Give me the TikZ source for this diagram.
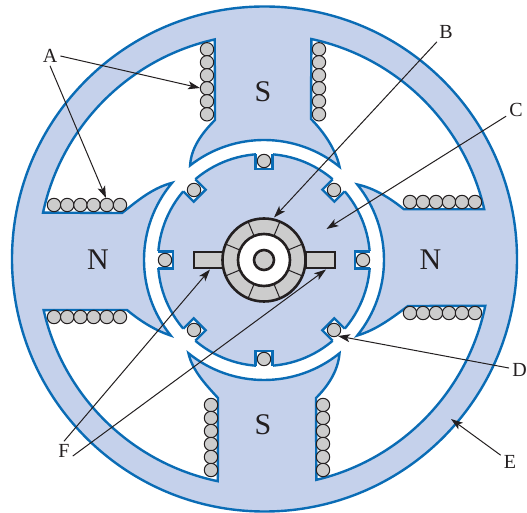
\documentclass[tikz,border=0pt]{standalone}
\usepackage{fontspec}
\setmainfont{Liberation Serif}
\usetikzlibrary{arrows.meta}
\definecolor{motorblue}{RGB}{197, 209, 235}
\definecolor{motoredge}{RGB}{10, 108, 181}
\definecolor{wiregray}{RGB}{204, 204, 204}
\definecolor{inkblack}{RGB}{35, 31, 32}
\tikzset{
  ironpart/.style={fill=motorblue, draw=motoredge, line width=2.4pt},
  coilwire/.style={fill=wiregray, draw=inkblack, line width=1pt},
  hubpart/.style={fill=wiregray, draw=inkblack, line width=2.6pt},
  polelabel/.style={font=\fontsize{30}{30}\selectfont, text=inkblack},
  partlabel/.style={font=\fontsize{20}{20}\selectfont, text=inkblack, inner sep=3pt},
  pointer/.style={draw=inkblack, line width=1pt, -{Stealth[length=12pt, width=8pt, inset=3pt]}}
}

\begin{document}
\begin{tikzpicture}[x=1pt, y=1pt]
        \useasboundingbox (-264,-253) rectangle (263,260);
        % stator with the window and the air gap
        \draw[ironpart] (0.5,1) circle (252.5);
        \draw[fill=white, draw=motoredge, line width=2.4pt, line join=miter]
            (77.9:226) arc[start angle=77.9, end angle=13, radius=226]
            -- (140,50.7) .. controls (126,62) and (110,72) .. (39:120)
            arc[start angle=39, end angle=-39, radius=120]
            .. controls (112,-70) and (128,-58) .. (144,-46)
            -- (-11.7:226) arc[start angle=-11.7, end angle=-76.6, radius=226]
            -- (52,-138) .. controls (63,-127) and (74,-112) .. (-51:120)
            arc[start angle=-51, end angle=-129, radius=120]
            .. controls (-72,-110) and (-58,-125) .. (-46,-138)
            -- (-101.8:226) arc[start angle=-101.8, end angle=-167.2, radius=226]
            -- (-137,-50) .. controls (-125,-60) and (-110,-70) .. (219:120)
            arc[start angle=219, end angle=140, radius=120]
            .. controls (-112,72) and (-128,58) .. (-142,47)
            -- (167.9:226) arc[start angle=167.9, end angle=102.6, radius=226]
            -- (-49,140) .. controls (-62,127) and (-73,112) .. (128:120)
            arc[start angle=128, end angle=51, radius=120]
            .. controls (72,110) and (60,128) .. (47,141) -- cycle;
        % coils
        \foreach \n in {0,...,5} {
            \draw[coilwire] (-57,210.7-13*\n) circle (6.7);
            \draw[coilwire] (55,210.7-13*\n) circle (6.7);
            \draw[coilwire] (-53,-145-13*\n) circle (6.7);
            \draw[coilwire] (59,-145-13*\n) circle (6.7);
            \draw[coilwire] (-210+13.2*\n,55) circle (6.7);
            \draw[coilwire] (-210+13.2*\n,-57) circle (6.7);
            \draw[coilwire] (146+13*\n,58) circle (6.7);
            \draw[coilwire] (146+13*\n,-53) circle (6.7);
        }
        % rotor
        \draw[ironpart] (0,0) circle (106);
        \foreach \angle in {0,45,...,315} {
            \begin{scope}[rotate=\angle]
                \fill[white] (91,-8.5) rectangle (109,8.5);
                \draw[motoredge, line width=2.4pt] (105.7,8.5) -- (91,8.5) -- (91,-8.5) -- (105.7,-8.5);
                \draw[coilwire] (99,0) circle (6.7);
            \end{scope}
        }
        % brushes and commutator
        \draw[hubpart] (-70,-8) rectangle (-41,8);
        \draw[hubpart] (42,-8) rectangle (71,8);
        \draw[hubpart] (0,0) circle (41.5);
        \foreach \angle in {22.5,67.5,...,337.5} {
            \draw[inkblack, line width=1pt] (\angle:26) -- (\angle:41.5);
        }
        \draw[fill=white, draw=inkblack, line width=2.6pt] (0,0) circle (26);
        \draw[hubpart] (0,0) circle (10);
        % labels
        \node[polelabel] (poleN) at (-1,168) {S};
        \node[polelabel] (poleS) at (-1,-165) {S};
        \node[polelabel] (poleW) at (-166,0) {N};
        \node[polelabel] (poleE) at (166.5,0) {N};
        \node[partlabel] (labelA) at (-214,204) {A};
        \node[partlabel] (labelB) at (182,228) {B};
        \node[partlabel] (labelC) at (252,150) {C};
        \node[partlabel] (labelD) at (255.5,-110) {D};
        \node[partlabel] (labelE) at (246,-202) {E};
        \node[partlabel] (labelF) at (-200,-191) {F};
        \coordinate (tipAup) at (-64,172);
        \coordinate (tipAlow) at (-158,62);
        \coordinate (tipB) at (10,42.5);
        \coordinate (tipC) at (62.5,31);
        \coordinate (tipD) at (74,-76);
        \coordinate (tipE) at (187,-159);
        \coordinate (tipFleft) at (-54,-9.5);
        \coordinate (tipFright) at (62,-9.5);
        % pointers
        \draw[pointer] (labelA.east) -- (tipAup);
        \draw[pointer] (labelA.south) -- (tipAlow);
        \draw[pointer] (labelB) -- (tipB);
        \draw[pointer] (labelC) -- (tipC);
        \draw[pointer] (labelD) -- (tipD);
        \draw[pointer] (labelE) -- (tipE);
        \draw[pointer] (labelF.north) -- (tipFleft);
        \draw[pointer] (labelF.-30) -- (tipFright);
    \end{tikzpicture}
\end{document}
